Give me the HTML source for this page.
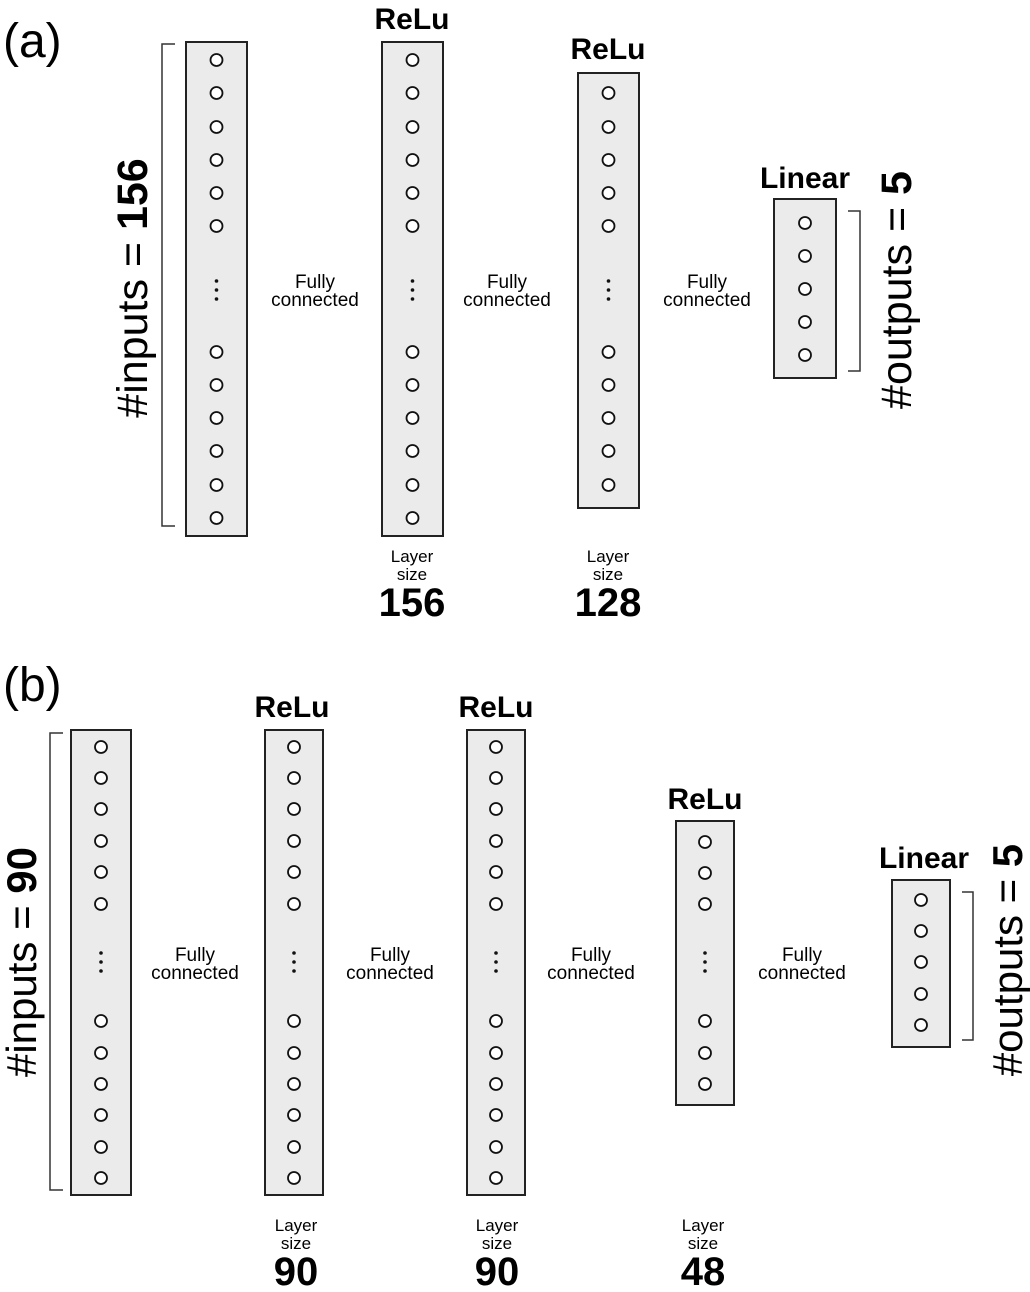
<!DOCTYPE html>
<html><head><meta charset="utf-8"><style>
html,body{margin:0;padding:0;background:#fff;}
svg{display:block;font-family:"Liberation Sans",sans-serif;}
</style></head><body>
<svg id="s" width="1030" height="1292" viewBox="0 0 1030 1292" xmlns="http://www.w3.org/2000/svg">
<text x="3" y="57" font-size="48">(a)</text>
<text x="3" y="701" font-size="48">(b)</text>
<g id="g"></g>
</svg>
<script>
const g=document.getElementById('g');let h='';
function box(x1,x2,y1,y2,cys,dot){h+=`<rect x="${x1}" y="${y1}" width="${x2-x1}" height="${y2-y1}" fill="#ebebeb" stroke="#222" stroke-width="2"/>`;
const cx=(x1+x2)/2;cys.forEach(y=>h+=`<circle cx="${cx}" cy="${y}" r="6" fill="#fff" stroke="#111" stroke-width="1.8"/>`);
if(dot!=null)[-9,0,9].forEach(d=>h+=`<circle cx="${cx}" cy="${dot+d}" r="1.8" fill="#111"/>`);}
function t(x,y,s,txt,b,extra){h+=`<text x="${x}" y="${y}" font-size="${s}" text-anchor="middle" ${b?'font-weight="bold"':''} ${extra||''}>${txt}</text>`;}
function fc(x,y){t(x,y,19,'Fully');t(x,y+18,19,'connected');}
function ls(x,y,n,ns){t(x,y,17,'Layer');t(x,y+18,17,'size');t(x,y+54,ns,n,1);}
function br(x1,x2,y1,y2){h+=`<path d="M${x2} ${y1}H${x1}V${y2}H${x2}" fill="none" stroke="#333" stroke-width="1.5"/>`;}
function rot(x,y,s,a,b){h+=`<text transform="translate(${x},${y}) rotate(-90)" font-size="${s}" text-anchor="middle" textLength="${0}">${a}<tspan font-weight="bold">${b}</tspan></text>`;}
// (a)
const A=[60,93,127,160,193,226,352,385,418,451,485,518];
box(186,247,42,536,A,290);box(382,443,42,536,A,290);
box(578,639,73,508,[93,127,160,193,226,352,385,418,451,485],290);
box(774,836,199,378,[223,256,289,322,355]);
t(412,29,30,'ReLu',1);t(608,59,30,'ReLu',1);t(805,188,30,'Linear',1);
fc(315,288);fc(507,288);fc(707,288);
ls(412,562,'156',40);ls(608,562,'128',40);
br(162,175,44,526);br(860,848,211,371);
h+=`<text transform="translate(147,288) rotate(-90)" font-size="43" text-anchor="middle">#inputs = <tspan font-weight="bold">156</tspan></text>`;
h+=`<text transform="translate(911,290) rotate(-90)" font-size="43" text-anchor="middle">#outputs = <tspan font-weight="bold">5</tspan></text>`;
// (b)
const B=[747,778,809,841,872,904,1021,1053,1084,1115,1147,1178];
box(71,131,730,1195,B,962);box(265,323,730,1195,B,962);box(467,525,730,1195,B,962);
box(676,734,821,1105,[842,873,904,1021,1053,1084],962);
box(892,950,880,1047,[900,931,962,994,1025]);
t(292,717,30,'ReLu',1);t(496,717,30,'ReLu',1);t(705,809,30,'ReLu',1);t(924,868,30,'Linear',1);
fc(195,961);fc(390,961);fc(591,961);fc(802,961);
ls(296,1231,'90',40);ls(497,1231,'90',40);ls(703,1231,'48',40);
br(50,63,733,1190);br(973,962,892,1040);
h+=`<text transform="translate(36,962) rotate(-90)" font-size="42" text-anchor="middle">#inputs = <tspan font-weight="bold">90</tspan></text>`;
h+=`<text transform="translate(1022,960) rotate(-90)" font-size="42" text-anchor="middle">#outputs = <tspan font-weight="bold">5</tspan></text>`;
g.innerHTML=h;
</script>
</body></html>
